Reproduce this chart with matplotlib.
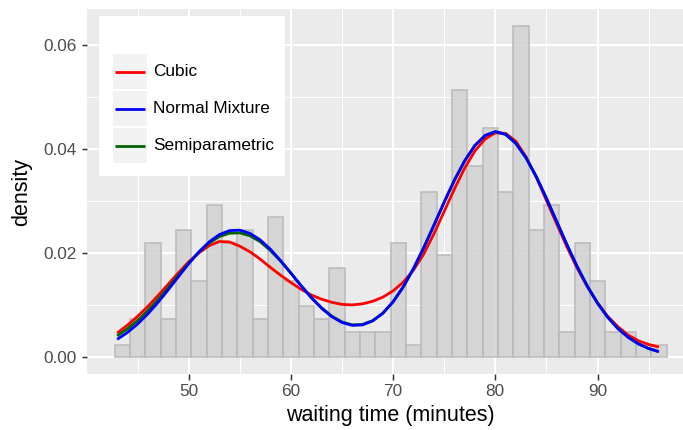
import matplotlib
matplotlib.use("Agg")
import matplotlib.pyplot as plt
import numpy as np
from matplotlib.patches import Rectangle
from matplotlib.lines import Line2D

plt.rcParams['font.family'] = ['Liberation Sans', 'DejaVu Sans']

# ---- data ----
bin_start = 42.75
bin_width = 1.5
bin_counts = [1, 3, 9, 3, 10, 6, 12, 9, 10, 3, 11, 6, 4, 3, 7, 2, 2, 2,
              9, 1, 13, 8, 21, 15, 18, 13, 26, 10, 12, 2, 9, 6, 2, 2, 1, 1]

curve_x = list(range(43, 97))
cubic = [0.0047, 0.0062, 0.0079, 0.0098, 0.0119, 0.0141, 0.0163, 0.0184, 0.0201, 0.0215,
         0.0223, 0.0222, 0.0214, 0.0203, 0.0189, 0.0173, 0.0158, 0.0144, 0.0131, 0.0120,
         0.0112, 0.0106, 0.0102, 0.0101, 0.0103, 0.0108, 0.0116, 0.0128, 0.0145, 0.0168,
         0.0199, 0.0238, 0.0281, 0.0324, 0.0364, 0.0397, 0.0420, 0.0432, 0.0431, 0.0416,
         0.0386, 0.0347, 0.0302, 0.0257, 0.0213, 0.0172, 0.0136, 0.0105, 0.0079, 0.0059,
         0.0043, 0.0032, 0.0025, 0.0020]
normal_mixture = [0.00347, 0.00479, 0.00642, 0.00837, 0.01059, 0.01301, 0.01554, 0.01802, 0.02030, 0.02222,
                  0.02363, 0.02440, 0.02448, 0.02386, 0.02260, 0.02080, 0.01861, 0.01622, 0.01378, 0.01148,
                  0.00946, 0.00784, 0.00672, 0.00617, 0.00626, 0.00702, 0.00851, 0.01070, 0.01359, 0.01711,
                  0.02112, 0.02546, 0.02988, 0.03410, 0.03781, 0.04076, 0.04269, 0.04343, 0.04291, 0.04119,
                  0.03841, 0.03479, 0.03061, 0.02616, 0.02172, 0.01752, 0.01372, 0.01044, 0.00772, 0.00554,
                  0.00387, 0.00262, 0.00172, 0.00110]
semiparametric = [0.00415, 0.00550, 0.00710, 0.00900, 0.01115, 0.01345, 0.01585, 0.01815, 0.02025, 0.02200,
                  0.02325, 0.02390, 0.02395, 0.02340, 0.02225, 0.02055, 0.01850, 0.01620, 0.01380, 0.01155,
                  0.00955, 0.00795, 0.00682, 0.00627, 0.00634, 0.00708, 0.00851, 0.01070, 0.01359, 0.01711,
                  0.02112, 0.02546, 0.02988, 0.03410, 0.03781, 0.04076, 0.04269, 0.04343, 0.04291, 0.04119,
                  0.03841, 0.03479, 0.03061, 0.02616, 0.02172, 0.01752, 0.01372, 0.01044, 0.00772, 0.00554,
                  0.00387, 0.00262, 0.00172, 0.00110]

series_labels = ["Cubic", "Normal Mixture", "Semiparametric"]
series_colors = ["#FF0000", "#0000FF", "#006400"]
x_major = [50, 60, 70, 80, 90]
x_minor = [45, 55, 65, 75, 85, 95]
y_major = [0.00, 0.02, 0.04, 0.06]
y_minor = [0.01, 0.03, 0.05]
y_ticklabels = ["0.00", "0.02", "0.04", "0.06"]
x_title = "waiting time (minutes)"
y_title = "density"

# ---- figure ----
W, H = 683, 430
fig = plt.figure(figsize=(W / 100, H / 100), dpi=100)


def fx(px):
    return px / W


def fy(py):
    return 1 - py / H


ax = fig.add_axes([fx(87), fy(374), (694.1 - 87) / W, (374 - 9.5) / H])
ax.set_facecolor('#EBEBEB')
for s in ax.spines.values():
    s.set_visible(False)

counts = np.array(bin_counts, dtype=float)
dens = counts / (counts.sum() * bin_width)
lefts = bin_start + bin_width * np.arange(len(counts))
ax.bar(lefts, dens, width=bin_width, align='edge', color='#D3D3D3', alpha=0.88,
       edgecolor='#B8B8B8', linewidth=1.2, zorder=2)

curves = {"Cubic": cubic, "Normal Mixture": normal_mixture, "Semiparametric": semiparametric}
for lab in ["Cubic", "Semiparametric", "Normal Mixture"]:
    c = series_colors[series_labels.index(lab)]
    ax.plot(curve_x, curves[lab], color=c, lw=2.0, zorder=3,
            solid_capstyle='butt', solid_joinstyle='round')

ax.set_xlim(40.05, 99.45)
ax.set_ylim(-0.003187, 0.066921)
ax.set_xticks(x_major)
ax.set_xticks(x_minor, minor=True)
ax.set_yticks(y_major)
ax.set_yticks(y_minor, minor=True)
ax.set_yticklabels(y_ticklabels)
ax.grid(which='major', color='white', lw=1.5, zorder=0)
ax.grid(which='minor', color='white', lw=0.75, zorder=0)
ax.set_axisbelow(True)
ax.tick_params(which='major', length=3.96, width=1.07, color='#333333',
               labelcolor='#4D4D4D', labelsize=12.4, pad=3.2)
ax.tick_params(which='minor', length=0)
ax.set_xlabel(x_title, fontsize=15.5, color='black', labelpad=4)
ax.set_ylabel(y_title, fontsize=15.5, color='black', labelpad=8)

# ---- legend (drawn manually to mimic ggplot layout) ----
fig.add_artist(Rectangle((fx(99), fy(176)), (285 - 99) / W, (176 - 16) / H,
                         transform=fig.transFigure, facecolor='white', edgecolor='none'))
key = 34.5
for i, (lab, col) in enumerate(zip(series_labels, series_colors)):
    top = 54.3 + i * 37.0
    fig.add_artist(Rectangle((fx(112.7), fy(top + key)), key / W, key / H,
                             transform=fig.transFigure, facecolor='#F2F2F2', edgecolor='none'))
    cy = top + key / 2
    fig.add_artist(Line2D([fx(115), fx(145)], [fy(cy), fy(cy)], transform=fig.transFigure,
                          color=col, lw=2.0, solid_capstyle='butt'))
    fig.text(fx(152.7), fy(cy), lab, fontsize=12.4, color='black', va='center', ha='left')

fig.savefig('out.png', dpi=100)
